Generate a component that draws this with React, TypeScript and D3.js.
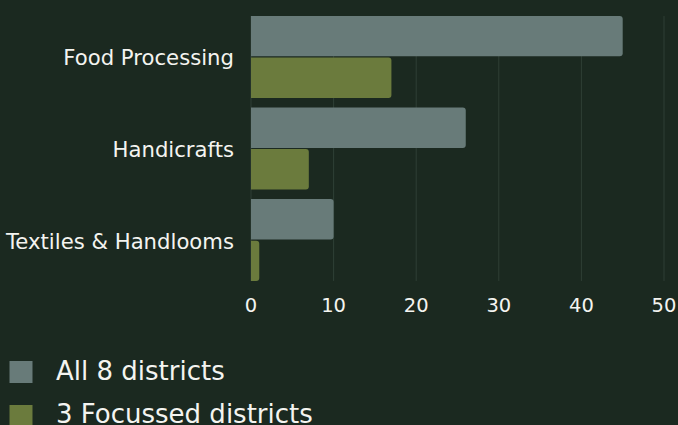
import React from "react";
import * as d3 from "d3";

const categories = ["Food Processing", "Handicrafts", "Textiles & Handlooms"];
const seriesNames = ["All 8 districts", "3 Focussed districts"];
const allDistricts = [45, 26, 10];
const focussedDistricts = [17, 7, 1];
const xTicks = [0, 10, 20, 30, 40, 50];

const W = 678;
const H = 425;
const BG = "#1b2920";
const COLORS = ["#687b79", "#6b7b3d"];
const GRID = "#2f3f35";
const TEXT = "#f4f4f0";
const FONT = "'DejaVu Sans', 'Open Sans', sans-serif";

function barPath(x0: number, x1: number, y0: number, h: number, r: number) {
  const w = x1 - x0;
  const rr = Math.min(r, w / 2, h / 2);
  return `M${x0},${y0}H${x1 - rr}Q${x1},${y0} ${x1},${y0 + rr}V${y0 + h - rr}Q${x1},${y0 + h} ${x1 - rr},${y0 + h}H${x0}Z`;
}

export default function App() {
  const x = d3.scaleLinear().domain([0, 50]).range([251, 664]);
  const y = d3
    .scaleBand<string>()
    .domain(categories)
    .range([11.2, 285.8])
    .paddingInner(0.106)
    .paddingOuter(0.053);
  const inner = d3
    .scaleBand<string>()
    .domain(seriesNames)
    .range([0, y.bandwidth()])
    .paddingInner(0.03);
  const gridTop = y(categories[0])!;
  const gridBottom = y(categories[categories.length - 1])! + y.bandwidth();
  const values = [allDistricts, focussedDistricts];

  return (
    <svg
      width={W}
      height={H}
      style={{ position: "absolute", left: 0, top: 0, background: BG }}
      fontFamily={FONT}
    >
      <rect x={0} y={0} width={W} height={H} fill={BG} />
      {xTicks.map((t) => (
        <line
          key={"g" + t}
          x1={x(t)}
          x2={x(t)}
          y1={gridTop}
          y2={gridBottom}
          stroke={GRID}
          strokeWidth={1}
        />
      ))}
      {categories.map((c, i) =>
        seriesNames.map((s, j) => (
          <path
            key={c + s}
            d={barPath(x(0), x(values[j][i]), y(c)! + inner(s)!, inner.bandwidth(), 3)}
            fill={COLORS[j]}
          />
        ))
      )}
      {categories.map((c) => (
        <text
          key={"l" + c}
          x={234}
          y={y(c)! + y.bandwidth() / 2}
          dy="0.4em"
          textAnchor="end"
          fill={TEXT}
          fontSize={21.2}
        >
          {c}
        </text>
      ))}
      {xTicks.map((t) => (
        <text
          key={"t" + t}
          x={x(t)}
          y={312}
          textAnchor="middle"
          fill={TEXT}
          fontSize={19.5}
        >
          {t}
        </text>
      ))}
      {seriesNames.map((s, j) => (
        <g key={"lg" + s}>
          <rect x={9.5} y={361 + j * 44} width={23} height={22} fill={COLORS[j]} />
          <text x={56} y={380 + j * 43} fill={TEXT} fontSize={26}>
            {s}
          </text>
        </g>
      ))}
    </svg>
  );
}
